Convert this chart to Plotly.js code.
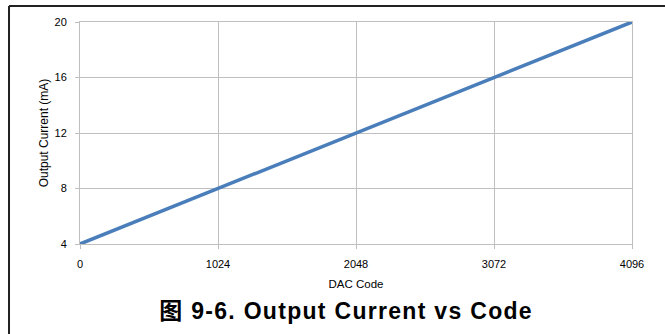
<!DOCTYPE html>
<html>
<head>
<meta charset="utf-8">
<script src="https://cdn.plot.ly/plotly-3.0.1.min.js"></script>
<style>
  html, body { margin: 0; padding: 0; background: #fff; }
  #chart { width: 665px; height: 334px; }
  .annotation-text.fig-caption { letter-spacing: 1.3px; }
</style>
</head>
<body>
<div id="chart"></div>
<script>
// DAC code vs. 4–20 mA loop output current
const dacCodes = [0, 1024, 2048, 3072, 4096];
const outputCurrent = [4, 8, 12, 16, 20];
const xTicks = [0, 1024, 2048, 3072, 4096];
const yTicks = [4, 8, 12, 16, 20];
const xTitle = 'DAC Code';
const yTitle = 'Output Current (mA)';
const caption = '图 9-6. Output Current vs Code';

const baseFont = 'Liberation Sans, Arial, Noto Sans CJK SC, sans-serif';
const gridGray = '#bfbfbf';

const trace = {
  x: dacCodes,
  y: outputCurrent,
  type: 'scatter',
  mode: 'lines',
  line: { color: '#4a7ebb', width: 3.5 },
  hoverinfo: 'skip'
};

const layout = {
  width: 665,
  height: 334,
  margin: { l: 80, r: 33, t: 22, b: 90 },
  paper_bgcolor: '#ffffff',
  plot_bgcolor: '#ffffff',
  showlegend: false,
  font: { family: baseFont, color: '#000000', size: 11 },
  xaxis: {
    range: [0, 4096],
    tickvals: xTicks,
    ticktext: xTicks.map(String),
    showgrid: true,
    gridcolor: gridGray,
    gridwidth: 1,
    zeroline: false,
    showline: true,
    mirror: true,
    linecolor: gridGray,
    linewidth: 1,
    ticks: 'outside',
    ticklen: 4,
    tickcolor: gridGray,
    ticklabelstandoff: 6,
    tickfont: { size: 11 },
    title: { text: xTitle, font: { size: 11.5 }, standoff: 10 }
  },
  yaxis: {
    range: [4, 20],
    tickvals: yTicks,
    ticktext: yTicks.map(String),
    showgrid: true,
    gridcolor: gridGray,
    gridwidth: 1,
    zeroline: false,
    showline: true,
    mirror: true,
    linecolor: gridGray,
    linewidth: 1,
    ticks: 'outside',
    ticklen: 4,
    tickcolor: gridGray,
    ticklabelstandoff: 6,
    tickfont: { size: 11 },
    title: { text: yTitle, font: { size: 12 }, standoff: 3 }
  },
  annotations: [{
    text: '<b>' + caption + '</b>',
    xref: 'paper', yref: 'paper',
    x: 0.482, y: -0.302,
    xanchor: 'center', yanchor: 'middle',
    showarrow: false,
    font: { family: baseFont, size: 23, color: '#000000' }
  }],
  shapes: [
    // outer frame: top and left edges
    { type: 'line', xref: 'paper', yref: 'paper', x0: -0.1286, x1: 1.07, y0: 1.072, y1: 1.072,
      line: { color: '#222222', width: 2 } },
    { type: 'line', xref: 'paper', yref: 'paper', x0: -0.1286, x1: -0.1286, y0: 1.072, y1: -0.42,
      line: { color: '#222222', width: 2 } }
  ]
};

Plotly.newPlot('chart', [trace], layout, { displayModeBar: false, staticPlot: true }).then(() => {
  document.querySelectorAll('.annotation-text').forEach(el => el.classList.add('fig-caption'));
});
</script>
</body>
</html>
